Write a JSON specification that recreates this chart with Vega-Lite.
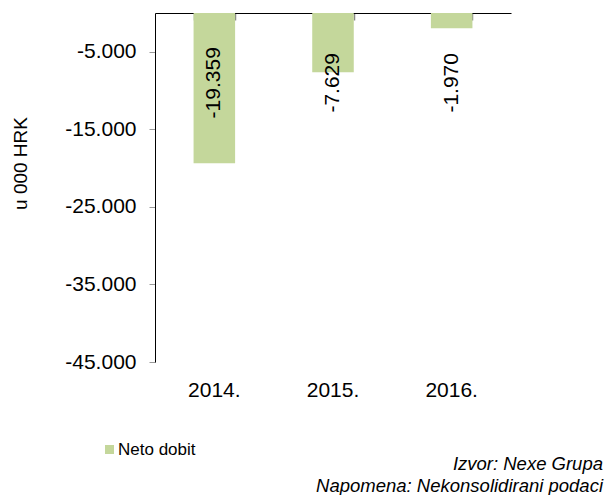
{
  "$schema": "https://vega.github.io/schema/vega-lite/v6.json",
  "width": 356,
  "height": 349,
  "autosize": {"type": "none"},
  "padding": {"left": 155, "top": 13, "right": 95, "bottom": 133},
  "background": "white",
  "config": {
    "view": {"stroke": null},
    "font": "Liberation Sans",
    "locale": {
      "number": {"decimal": ",", "thousands": ".", "grouping": [3], "currency": ["", " kn"], "minus": "-"}
    }
  },
  "data": {
    "values": [
      {"year": "2014.", "value": -19359},
      {"year": "2015.", "value": -7629},
      {"year": "2016.", "value": -1970}
    ]
  },
  "title": {
    "text": ["Izvor: Nexe Grupa", "Napomena: Nekonsolidirani podaci"],
    "orient": "bottom",
    "anchor": "end",
    "frame": "group",
    "align": "right",
    "fontStyle": "italic",
    "fontWeight": "normal",
    "fontSize": 18.5,
    "color": "black",
    "dx": 92,
    "dy": -18,
    "lineHeight": 22,
    "offset": 15
  },
  "layer": [
    {
      "mark": {"type": "bar", "color": "#c4d79b"},
      "encoding": {
        "x": {
          "field": "year", "type": "nominal", "sort": null,
          "scale": {"paddingInner": 0.65, "paddingOuter": 0.325},
          "axis": {"orient": "bottom", "title": null, "labelAngle": 0, "domain": false, "ticks": false, "tickSize": 0, "labelPadding": 17, "labelFontSize": 21, "labelColor": "black"}
        },
        "y": {
          "field": "value", "type": "quantitative",
          "scale": {"domain": [-45000, 0], "nice": false, "zero": true},
          "axis": {
            "values": [-5000, -15000, -25000, -35000, -45000],
            "format": ",d",
            "grid": false,
            "domainColor": "black",
            "tickColor": "#999",
            "tickSize": 6,
            "labelPadding": 13,
            "labelFontSize": 21,
            "labelColor": "black",
            "title": "u 000 HRK",
            "titleFontSize": 19,
            "titleFontWeight": "normal",
            "titleColor": "black",
            "titleX": -135,
            "titleY": 150,
            "titleAngle": 270,
            "titleAlign": "center",
            "titleBaseline": "middle"
          }
        },
        "color": {
          "datum": "Neto dobit", "type": "nominal",
          "scale": {"range": ["#c4d79b"]},
          "legend": {
            "title": null, "orient": "none", "legendX": -54, "legendY": 428,
            "symbolType": "square", "symbolSize": 81, "symbolStrokeWidth": 0,
            "labelFontSize": 17, "labelColor": "black", "labelOffset": 0
          }
        }
      }
    },
    {
      "mark": {"type": "text", "angle": 270, "fontSize": 21, "color": "black", "align": "center", "baseline": "middle"},
      "encoding": {
        "x": {
          "field": "year", "type": "nominal", "sort": null,
          "axis": {"orient": "bottom", "offset": -349, "labels": false, "title": null, "domain": true, "domainColor": "black", "ticks": true, "tickBand": "extent", "tickSize": 7, "tickWidth": 1.5, "tickColor": "#888", "tickOpacity": 1}
        },
        "y": {"datum": -9000},
        "text": {"field": "value", "type": "quantitative", "format": ",d"}
      }
    }
  ],
  "resolve": {"axis": {"x": "independent"}}
}
